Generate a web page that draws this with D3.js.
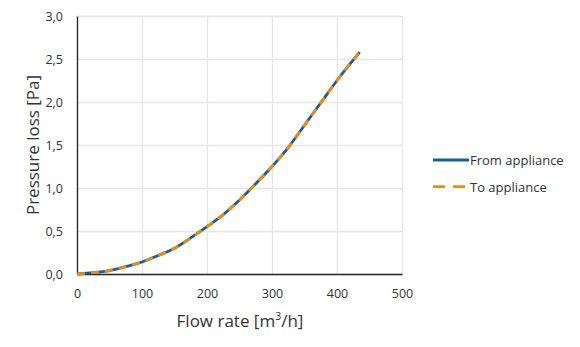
<!DOCTYPE html>
<html lang="en">
<head>
<meta charset="UTF-8">
<title>Pressure loss</title>
<script src="https://cdn.jsdelivr.net/npm/d3@7"></script>
<style>
    body { margin: 0; background: #fff; }
    text { font-family: "Open Sans", "Noto Sans", sans-serif; fill: #333; }
</style>
</head>
<body>
<div id="chart"></div>
<script>
    // data
    const flow = [0, 25, 50, 75, 100, 125, 150, 175, 200, 225, 250, 275, 300, 325, 350, 375, 400, 435]
    const fromAppliance = [0, 0.015, 0.04, 0.085, 0.14, 0.215, 0.3, 0.42, 0.55, 0.69, 0.86, 1.05, 1.25, 1.47, 1.73, 1.99, 2.25, 2.58]
    const toAppliance = [0, 0.015, 0.04, 0.085, 0.14, 0.215, 0.3, 0.42, 0.55, 0.69, 0.86, 1.05, 1.25, 1.47, 1.73, 1.99, 2.25, 2.58]
    const xTicks = [0, 100, 200, 300, 400, 500]
    const yTicks = [0, 0.5, 1, 1.5, 2, 2.5, 3]
    const seriesNames = ['From appliance', 'To appliance']

    const w = 580, h = 347
    const pLeft = 77, pRight = 402, pTop = 16, pBottom = 274

    const svg = d3.select('#chart').append('svg')
        .attr('width', w).attr('height', h)

    const x = d3.scaleLinear().domain([0, 500]).range([pLeft, pRight])
    const y = d3.scaleLinear().domain([0, 3]).range([pBottom, pTop])
    const fmt = d => d3.format('.1f')(d).replace('.', ',')

    // gridlines
    svg.append('g')
        .attr('transform', `translate(0,${pBottom})`)
        .call(d3.axisBottom(x).tickValues(xTicks).tickSize(-(pBottom - pTop)).tickFormat(''))
        .call(g => g.select('.domain').remove())
        .call(g => g.selectAll('line').attr('stroke', '#e6e6e6').attr('stroke-width', 1.3))
    svg.append('g')
        .attr('transform', `translate(${pLeft},0)`)
        .call(d3.axisLeft(y).tickValues(yTicks).tickSize(-(pRight - pLeft)).tickFormat(''))
        .call(g => g.select('.domain').remove())
        .call(g => g.selectAll('line').attr('stroke', '#e6e6e6').attr('stroke-width', 1.3))

    // axes
    const xAxis = svg.append('g')
        .attr('transform', `translate(0,${pBottom})`)
        .call(d3.axisBottom(x).tickValues(xTicks).tickSize(0).tickPadding(15).tickFormat(d3.format('d')))
    xAxis.select('.domain').attr('stroke', '#262626').attr('stroke-width', 1.3)
    xAxis.selectAll('text').style('font-size', '12.5px')

    const yAxis = svg.append('g')
        .attr('transform', `translate(${pLeft},0)`)
        .call(d3.axisLeft(y).tickValues(yTicks).tickSize(0).tickPadding(14).tickFormat(fmt))
    yAxis.select('.domain').attr('stroke', '#262626').attr('stroke-width', 1.3)
    yAxis.selectAll('text').style('font-size', '12.5px')

    // axis titles
    svg.append('text')
        .attr('x', 240).attr('y', 327)
        .attr('text-anchor', 'middle').style('font-size', '17px')
        .html('Flow rate [m<tspan baseline-shift="super" font-size="10.5px">3</tspan>/h]')
    svg.append('text')
        .attr('transform', `translate(39,${(pTop + pBottom) / 2}) rotate(-90)`)
        .attr('text-anchor', 'middle').style('font-size', '17px')
        .text('Pressure loss [Pa]')

    // lines
    const line = d3.line()
        .x(d => x(d[0])).y(d => y(d[1]))
        .curve(d3.curveMonotoneX)

    svg.append('path')
        .datum(flow.map((f, i) => [f, fromAppliance[i]]))
        .attr('d', line)
        .attr('fill', 'none').attr('stroke', '#13609c').attr('stroke-width', 2.8)
    svg.append('path')
        .datum(flow.map((f, i) => [f, toAppliance[i]]))
        .attr('d', line)
        .attr('fill', 'none').attr('stroke', '#f08a0c').attr('stroke-width', 2.8)
        .attr('stroke-dasharray', '8,6')

    // legend
    const legend = svg.append('g').attr('transform', 'translate(433,160)')
    legend.append('line').attr('x1', 0).attr('x2', 36).attr('y1', 0).attr('y2', 0)
        .attr('stroke', '#13609c').attr('stroke-width', 2.8)
    legend.append('line').attr('x1', 0).attr('x2', 36).attr('y1', 26.7).attr('y2', 26.7)
        .attr('stroke', '#f08a0c').attr('stroke-width', 2.8).attr('stroke-dasharray', '12,8')
    legend.selectAll('text.lbl')
        .data(seriesNames)
        .enter()
        .append('text')
        .attr('class', 'lbl')
        .attr('x', 37).attr('y', (d, i) => i * 26.7 + 5)
        .style('font-size', '13px')
        .text(d => d)
</script>
</body>
</html>
